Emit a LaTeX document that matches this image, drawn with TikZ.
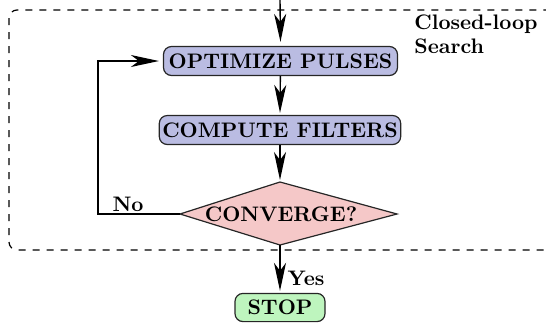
\documentclass[tikz,border=0pt]{standalone}
\usetikzlibrary{arrows.meta,shapes.geometric}
\definecolor{boxblue}{RGB}{186,188,226}
\definecolor{diapink}{RGB}{245,200,200}
\definecolor{stopgreen}{RGB}{190,245,190}
\newcommand{\dfont}{\fontsize{10.5}{12.5}\selectfont\bfseries}
\tikzset{
  procbox/.style={draw=black!85, fill=boxblue, rounded corners=4pt, line width=0.6pt,
    font=\dfont, inner xsep=1.5pt, minimum height=14.5pt, minimum width=117pt},
  stopbox/.style={draw=black!85, fill=stopgreen, rounded corners=4pt, line width=0.6pt,
    font=\dfont, minimum height=13.5pt, minimum width=45pt},
  lbl/.style={font=\dfont, inner sep=0pt},
  flow/.style={line width=0.7pt, -{Stealth[length=14pt,width=6pt,inset=4pt]}},
  region/.style={dash pattern=on 3.5pt off 3.5pt, line width=0.6pt, rounded corners=4pt}
}
\begin{document}
\begin{tikzpicture}[x=0.5pt,y=-0.5pt]
\useasboundingbox (0,0) rectangle (546,323);
% region
\draw[region] (9,10) rectangle (560,250);
\node[lbl, align=left, anchor=north west] (reg) at (414,14) {Closed-loop\\[-0.5pt]Search};
% nodes
\coordinate (in) at (280,0);
\node[procbox] (opt) at (280.5,61) {OPTIMIZE PULSES};
\node[procbox] (comp) at (280,130) {COMPUTE FILTERS};
\coordinate (ct) at (280,182);
\coordinate (cr) at (397,214);
\coordinate (cb) at (280,245);
\coordinate (cl) at (180,214);
\filldraw[fill=diapink, draw=black!85, line width=0.6pt] (ct) -- (cr) -- (cb) -- (cl) -- cycle;
\node[font=\dfont, inner sep=0pt] (conv) at (281,214) {CONVERGE?};
\node[stopbox] (stop) at (280,307.5) {STOP};
\coordinate (corner) at (98,214);
% connectors
\draw[flow] (in) -- ([yshift=2pt]opt.north);
\draw[flow] (opt) -- ([yshift=1pt]comp.north);
\draw[flow] (comp) -- ([yshift=1pt]ct);
\draw[flow] (cb) -- ([yshift=1pt]stop.north);
\draw[flow] (cl) -- (corner) |- ([xshift=-2pt]opt.west);
% labels
\node[lbl] (no) at (128,204) {No};
\node[lbl] (yes) at (306,278) {Yes};
\end{tikzpicture}
\end{document}
